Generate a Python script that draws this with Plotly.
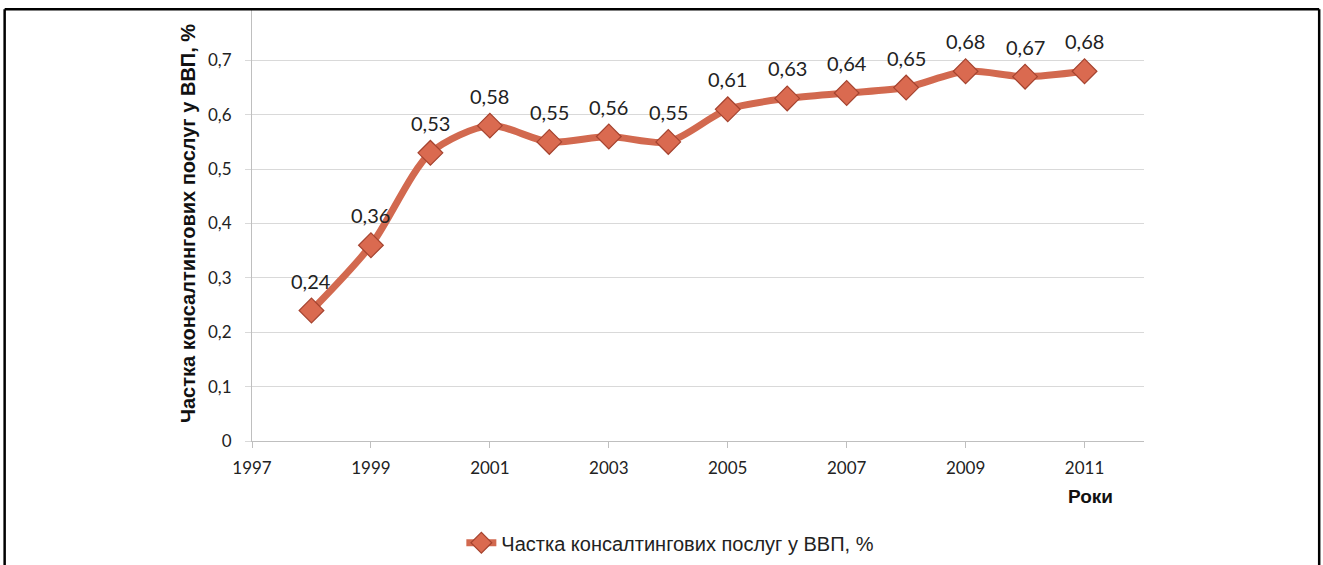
import plotly.graph_objects as go

years = [1998, 1999, 2000, 2001, 2002, 2003, 2004, 2005, 2006, 2007, 2008, 2009, 2010, 2011]
share = [0.24, 0.36, 0.53, 0.58, 0.55, 0.56, 0.55, 0.61, 0.63, 0.64, 0.65, 0.68, 0.67, 0.68]
series_name = "Частка консалтингових послуг у ВВП, %"
y_title = "Частка консалтингових послуг у ВВП, %"
x_title = "Роки"

line_color = "#D2694F"
marker_fill = "#DA6A50"
marker_edge = "#A5432F"
label_font = "Lato, 'DejaVu Sans', sans-serif"
arial = "Liberation Sans, Arial, sans-serif"

fig = go.Figure()
fig.add_trace(go.Scatter(
    x=years, y=share, name=series_name,
    mode="lines+markers",
    line=dict(color=line_color, width=7, shape="spline", smoothing=0.8),
    marker=dict(symbol="diamond", size=19, color=marker_fill,
                line=dict(color=marker_edge, width=1.2)),
    hoverinfo="x+y",
))

for xv, yv in zip(years, share):
    fig.add_annotation(x=xv, y=yv, text=f"{yv:.2f}".replace(".", ","),
                       showarrow=False, yshift=30,
                       font=dict(family=label_font, size=20, color="#222222"))

fig.add_annotation(x=2011, y=0, xref="x", yref="y", text=f"<b>{x_title}</b>",
                   showarrow=False, yshift=-55, xshift=6,
                   font=dict(family=arial, size=19, color="#111111"))

# frame of the picture (top edge crops the chart)
top = 0.9925
fig.add_shape(type="rect", xref="paper", yref="paper", x0=-1, x1=2, y0=top, y1=1.1,
              fillcolor="white", line=dict(width=0), layer="above")
fig.add_shape(type="line", xref="paper", yref="paper", x0=-0.2773, x1=1.1964, y0=top, y1=top,
              line=dict(color="black", width=2.5), layer="above")
fig.add_shape(type="line", xref="paper", yref="paper", x0=-0.2773, x1=-0.2773, y0=-0.3, y1=top,
              line=dict(color="black", width=2.5), layer="above")
fig.add_shape(type="line", xref="paper", yref="paper", x0=1.1964, x1=1.1964, y0=-0.3, y1=top,
              line=dict(color="black", width=2.5), layer="above")

fig.update_layout(
    width=1323, height=565,
    margin=dict(l=252, r=179, t=6, b=124, autoexpand=False),
    paper_bgcolor="white", plot_bgcolor="white",
    separators=", ",
    showlegend=True,
    legend=dict(orientation="h", x=0.469, xanchor="center", y=-0.234, yanchor="middle",
                font=dict(family=arial, size=20, color="#222222")),
    xaxis=dict(range=[1997, 2012], tick0=1997, dtick=2, showgrid=False,
               showline=True, linecolor="#BFBFBF", linewidth=1.2,
               ticks="outside", ticklen=6, tickcolor="#BFBFBF",
               ticklabelstandoff=5, automargin=False,
               tickfont=dict(family=label_font, size=17, color="#222222"),
               zeroline=False),
    yaxis=dict(range=[0, 0.8], dtick=0.1, showgrid=True, gridcolor="#D9D9D9", gridwidth=1.2,
               showline=True, linecolor="#BFBFBF", linewidth=1.2,
               ticks="outside", ticklen=6, tickcolor="#D9D9D9",
               ticklabelstandoff=10, automargin=False,
               tickfont=dict(family=label_font, size=17, color="#222222"),
               zeroline=False,
               title=dict(text=f"<b>{y_title}</b>", standoff=6,
                          font=dict(family=arial, size=20, color="#111111"))),
)

fig.write_html("out.html", config={"displayModeBar": False},
               post_script="document.body.style.margin='0';document.body.style.overflow='hidden';")
